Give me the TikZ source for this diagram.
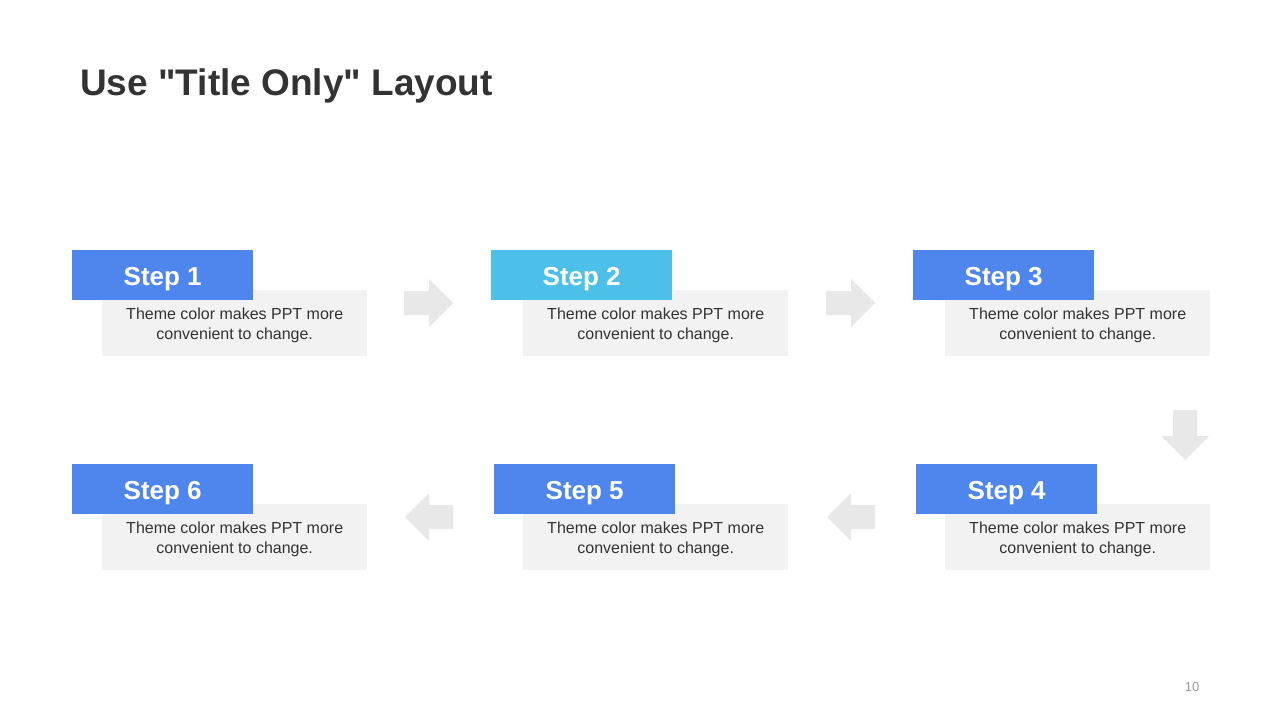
\documentclass[tikz,border=0pt]{standalone}
\usepackage{fontspec}
\setmainfont{Liberation Sans}[Ligatures=TeXOff]
\begin{document}
\begin{tikzpicture}[x=1pt,y=-1pt,
  stepbox/.style={fill=stepblue,inner sep=0pt,minimum width=181pt,minimum height=50pt},
  steptext/.style={text=white,font=\fontsize{26}{30}\selectfont\bfseries,inner sep=0pt},
  descbox/.style={fill=boxgray,inner sep=0pt,minimum width=265pt,minimum height=66pt},
  desctext/.style={text=textgray,font=\fontsize{16}{19.5}\selectfont,align=center,inner sep=0pt},
  arrowshape/.style={fill=arrowgray,draw=none}]
\definecolor{stepblue}{HTML}{4F86EE}
\definecolor{stepcyan}{HTML}{4DC0EA}
\definecolor{boxgray}{HTML}{F2F2F2}
\definecolor{arrowgray}{HTML}{E8E8E8}
\definecolor{textgray}{HTML}{333333}
\definecolor{titlegray}{HTML}{333333}
\useasboundingbox[fill=white] (0,0) rectangle (1280,720);
\node[anchor=base west,text=titlegray,font=\fontsize{37}{40}\selectfont\bfseries,inner sep=0pt] (title) at (80,95) {Use "Title Only" Layout};
% row 1
\node[descbox,anchor=north west] (d1) at (102,290) {};
\node[desctext] (t1) at ([yshift=-2]d1.center) {Theme color makes PPT more\\convenient to change.};
\node[stepbox,anchor=north west] (s1) at (72,250) {};
\node[steptext] (l1) at ([yshift=-4]s1.center) {Step 1};
\node[descbox,anchor=north west] (d2) at (523,290) {};
\node[desctext] (t2) at ([yshift=-2]d2.center) {Theme color makes PPT more\\convenient to change.};
\node[stepbox,anchor=north west,fill=stepcyan] (s2) at (491,250) {};
\node[steptext] (l2) at ([yshift=-4]s2.center) {Step 2};
\node[descbox,anchor=north west] (d3) at (945,290) {};
\node[desctext] (t3) at ([yshift=-2]d3.center) {Theme color makes PPT more\\convenient to change.};
\node[stepbox,anchor=north west] (s3) at (913,250) {};
\node[steptext] (l3) at ([yshift=-4]s3.center) {Step 3};
% row 2
\node[descbox,anchor=north west] (d6) at (102,504) {};
\node[desctext] (t6) at ([yshift=-2]d6.center) {Theme color makes PPT more\\convenient to change.};
\node[stepbox,anchor=north west] (s6) at (72,464) {};
\node[steptext] (l6) at ([yshift=-4]s6.center) {Step 6};
\node[descbox,anchor=north west] (d5) at (523,504) {};
\node[desctext] (t5) at ([yshift=-2]d5.center) {Theme color makes PPT more\\convenient to change.};
\node[stepbox,anchor=north west] (s5) at (494,464) {};
\node[steptext] (l5) at ([yshift=-4]s5.center) {Step 5};
\node[descbox,anchor=north west] (d4) at (945,504) {};
\node[desctext] (t4) at ([yshift=-2]d4.center) {Theme color makes PPT more\\convenient to change.};
\node[stepbox,anchor=north west] (s4) at (916,464) {};
\node[steptext] (l4) at ([yshift=-4]s4.center) {Step 4};
% arrows
\fill[arrowshape] (404,291) -- (429,291) -- (429,279) -- (453,303) -- (429,327) -- (429,315) -- (404,315) -- cycle;
\fill[arrowshape] (826,291) -- (851,291) -- (851,279) -- (875,303) -- (851,327) -- (851,315) -- (826,315) -- cycle;
\fill[arrowshape] (1173,410) -- (1197,410) -- (1197,436) -- (1209,436) -- (1185,460) -- (1161,436) -- (1173,436) -- cycle;
\fill[arrowshape] (875,505) -- (851,505) -- (851,493) -- (827,517) -- (851,541) -- (851,529) -- (875,529) -- cycle;
\fill[arrowshape] (453,505) -- (429,505) -- (429,493) -- (405,517) -- (429,541) -- (429,529) -- (453,529) -- cycle;
\node[text=gray!80,font=\fontsize{13}{15}\selectfont,inner sep=0pt] (page) at (1192,687) {10};
\end{tikzpicture}
\end{document}
